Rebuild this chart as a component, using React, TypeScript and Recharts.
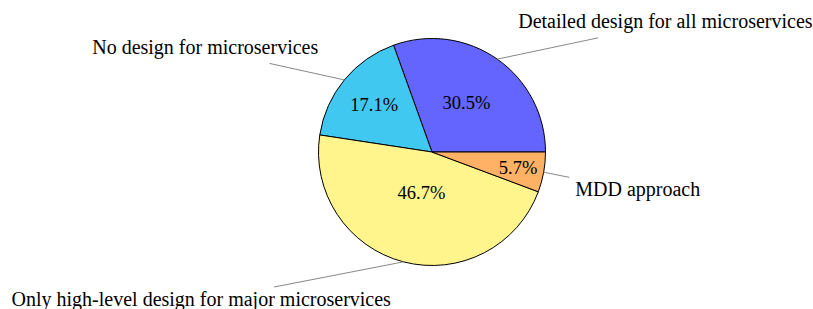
import { PieChart, Pie, Cell } from 'recharts'

const categories = [
  'Detailed design for all microservices',
  'No design for microservices',
  'Only high-level design for major microservices',
  'MDD approach',
]
const shares = [30.5, 17.1, 46.7, 5.7]
const colors = ['#6464ff', '#40c8f0', '#fff58c', '#ffb266']

const data = categories.map((name, i) => ({ name, value: shares[i] }))

const FONT = '"Liberation Serif", "Times New Roman", serif'
const LABEL_SIZE = 20
const NUM_SIZE = 18.5
const SEP = 6
const ASC = 12.8
const DESC = 3.6
const PIN = 26
const RADIAN = Math.PI / 180

let ctx: CanvasRenderingContext2D | null = null
function measure(text: string) {
  if (!ctx) ctx = document.createElement('canvas').getContext('2d')
  if (!ctx) return text.length * 9
  ctx.font = `${LABEL_SIZE}px ${FONT}`
  return ctx.measureText(text).width
}

// tikz style auto anchor for a pin placed at angle a
function anchorFor(a: number) {
  if (a <= 2 || a >= 358) return ['west', 'mid']
  if (a < 88) return ['west', 'south']
  if (a <= 92) return ['center', 'south']
  if (a < 178) return ['east', 'south']
  if (a <= 182) return ['east', 'mid']
  if (a < 268) return ['east', 'north']
  if (a <= 272) return ['center', 'north']
  return ['west', 'north']
}

function renderLabel(props: any) {
  const { cx, cy, midAngle, outerRadius, percent, index, name, value } = props
  const cos = Math.cos(-midAngle * RADIAN)
  const sin = Math.sin(-midAngle * RADIAN)

  // number sits further out for thin slices
  const span = percent * 360
  const k = Math.max(Math.min(((span - 10) / 110) * -0.3, 0), -0.5) + 0.8
  const nx = cx + outerRadius * k * cos
  const ny = cy + outerRadius * k * sin

  // pin label
  const px = cx + outerRadius * cos
  const py = cy + outerRadius * sin
  const ax = px + PIN * cos
  const ay = py + PIN * sin
  const w = measure(name) + 2 * SEP
  const h = ASC + DESC + 2 * SEP
  const [hz, vt] = anchorFor(((midAngle % 360) + 360) % 360)
  const x0 = hz === 'west' ? ax : hz === 'east' ? ax - w : ax - w / 2
  const y0 = vt === 'north' ? ay : vt === 'south' ? ay - h : ay - h / 2
  const bcx = x0 + w / 2
  const bcy = y0 + h / 2
  const dx = px - bcx
  const dy = py - bcy
  const t = Math.min(
    dx === 0 ? Infinity : w / 2 / Math.abs(dx),
    dy === 0 ? Infinity : h / 2 / Math.abs(dy),
  )
  const ex = bcx + dx * t
  const ey = bcy + dy * t

  return (
    <g key={`lbl-${index}`}>
      <text
        x={nx}
        y={ny}
        dy="0.35em"
        textAnchor="middle"
        fill="#000"
        fontFamily={FONT}
        fontSize={NUM_SIZE}
      >
        {`${Number(value).toFixed(1)}%`}
      </text>
      <line x1={px} y1={py} x2={ex} y2={ey} stroke="#7a7a7a" strokeWidth={0.9} />
      <text
        x={x0 + SEP}
        y={y0 + SEP + ASC}
        textAnchor="start"
        fill="#000"
        fontFamily={FONT}
        fontSize={LABEL_SIZE}
      >
        {name}
      </text>
    </g>
  )
}

export default function App() {
  return (
    <div style={{ position: 'absolute', left: 0, top: 0, width: 813, height: 309, background: '#fff' }}>
      <PieChart width={813} height={309} margin={{ top: 0, right: 0, bottom: 0, left: 0 }}>
        <Pie
          data={data}
          dataKey="value"
          nameKey="name"
          cx={432}
          cy={152}
          outerRadius={113.5}
          startAngle={0}
          endAngle={360}
          stroke="#000"
          strokeWidth={1}
          label={renderLabel}
          labelLine={false}
          isAnimationActive={false}
        >
          {data.map((_, i) => (
            <Cell key={i} fill={colors[i]} />
          ))}
        </Pie>
      </PieChart>
    </div>
  )
}
